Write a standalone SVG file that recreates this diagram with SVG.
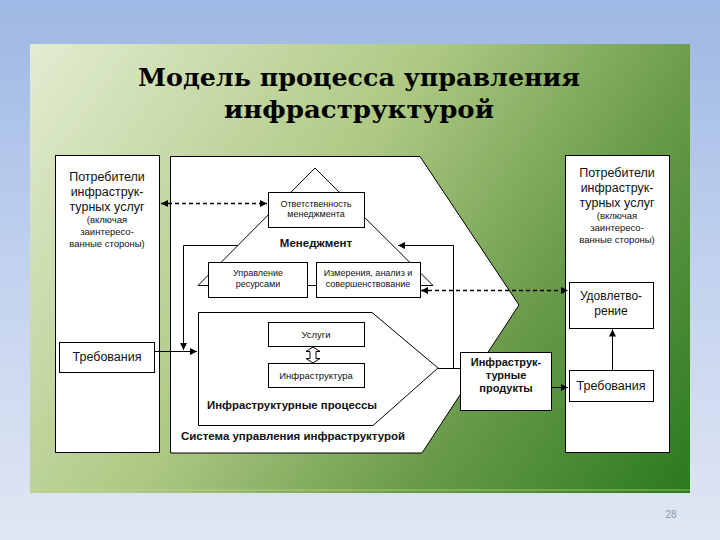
<svg xmlns="http://www.w3.org/2000/svg" width="720" height="540" viewBox="0 0 720 540">
<defs>
<linearGradient id="bg" x1="0" y1="0" x2="0" y2="1">
<stop offset="0" stop-color="#9db8e4"/>
<stop offset="0.5" stop-color="#c2d2ee"/>
<stop offset="1" stop-color="#e0e7f3"/>
</linearGradient>
<linearGradient id="panel" gradientUnits="userSpaceOnUse" x1="30" y1="44" x2="690" y2="493">
<stop offset="0" stop-color="#e3ecd2"/>
<stop offset="0.42" stop-color="#aec983"/>
<stop offset="0.7" stop-color="#6b9c4b"/>
<stop offset="1" stop-color="#2a7a1c"/>
</linearGradient>
<marker id="ar" markerUnits="userSpaceOnUse" markerWidth="8" markerHeight="8" refX="7" refY="3.5" orient="auto-start-reverse">
<path d="M0,0 L7,3.5 L0,7 z" fill="#000"/>
</marker>
<style>
.box{fill:#fff;stroke:#000;stroke-width:1}
.ln{fill:none;stroke:#000;stroke-width:1}
.dash{fill:none;stroke:#000;stroke-width:1.3;stroke-dasharray:4 3}
.t{font-family:"Liberation Sans",Arial,sans-serif;fill:#111;text-anchor:middle}
.b{font-weight:bold}
.big{font-size:12.5px}
.sm{font-size:9.5px}
.xs{font-size:9px}
.title{font-family:"DejaVu Serif","Liberation Serif",serif;font-weight:bold;font-size:25px;fill:#000;text-anchor:middle}
</style>
</defs>
<rect x="0" y="0" width="720" height="540" fill="url(#bg)"/>
<rect x="30" y="44" width="660" height="449" fill="url(#panel)"/>
<line x1="30" y1="490" x2="690" y2="490" stroke="#c3d88e" stroke-width="1" opacity="0.7"/>
<text class="title" x="359" y="86" textLength="442" lengthAdjust="spacingAndGlyphs">Модель процесса управления</text>
<text class="title" x="359" y="118" textLength="270" lengthAdjust="spacingAndGlyphs">инфраструктурой</text>
<text x="671" y="518" font-family="Liberation Sans, Arial, sans-serif" font-size="10" fill="#8a96a8" text-anchor="middle">28</text>

<g id="consumers-left">
<rect class="box" x="55.5" y="155.5" width="104" height="297"/>
<text class="t big" x="107" y="181">Потребители</text>
<text class="t big" x="107" y="196">инфраструк-</text>
<text class="t big" x="107" y="211">турных услуг</text>
<text class="t sm" x="107" y="223">(включая</text>
<text class="t sm" x="107" y="235">заинтересо-</text>
<text class="t sm" x="107" y="247">ванные стороны)</text>
</g>
<g id="requirements-left">
<rect class="box" x="59.5" y="342.5" width="95" height="30"/>
<text class="t big" x="107" y="361">Требования</text>
</g>

<g id="system">
<polygon class="box" points="170.5,156.5 420,156.5 519,305 422,453 170.5,453"/>
<text class="t b" x="293" y="440" font-size="11" textLength="224" lengthAdjust="spacingAndGlyphs">Система управления инфраструктурой</text>
</g>

<g id="management">
<polygon class="ln" points="315,168 198,285.5 433,285.5"/>
<text class="t b" x="316" y="247" font-size="11.5">Менеджмент</text>
</g>
<g id="responsibility">
<rect class="box" x="268.5" y="192.5" width="96" height="35"/>
<text class="t xs" x="316" y="207">Ответственность</text>
<text class="t xs" x="316" y="217">менеджмента</text>
</g>
<g id="resources">
<rect class="box" x="208.5" y="262.5" width="99" height="35"/>
<text class="t xs" x="258" y="276">Управление</text>
<text class="t xs" x="258" y="287">ресурсами</text>
</g>
<g id="measurement">
<rect class="box" x="316.5" y="262.5" width="104" height="35"/>
<text class="t xs" x="368" y="276">Измерения, анализ и</text>
<text class="t xs" x="368" y="287">совершенствование</text>
</g>

<g id="processes">
<polygon class="box" points="198.5,312.5 372,312.5 438,368 373,425.5 198.5,425.5"/>
<text class="t b" x="292" y="409" font-size="11" textLength="170" lengthAdjust="spacingAndGlyphs">Инфраструктурные процессы</text>
</g>
<g id="services">
<rect class="box" x="268.5" y="322.5" width="96" height="24"/>
<text class="t sm" x="316" y="338">Услуги</text>
</g>
<g id="infrastructure">
<rect class="box" x="268.5" y="363.5" width="96" height="24"/>
<text class="t sm" x="316" y="379">Инфраструктура</text>
</g>

<g id="products">
<rect class="box" x="460.5" y="352.5" width="91" height="58"/>
<text class="t b" x="506" y="366" font-size="11">Инфраструк-</text>
<text class="t b" x="506" y="379" font-size="11">турные</text>
<text class="t b" x="506" y="392" font-size="11">продукты</text>
</g>

<g id="consumers-right">
<rect class="box" x="565.5" y="155.5" width="104" height="297"/>
<text class="t big" x="617" y="177">Потребители</text>
<text class="t big" x="617" y="192">инфраструк-</text>
<text class="t big" x="617" y="207">турных услуг</text>
<text class="t sm" x="617" y="219">(включая</text>
<text class="t sm" x="617" y="231">заинтересо-</text>
<text class="t sm" x="617" y="243">ванные стороны)</text>
</g>
<g id="satisfaction">
<rect class="box" x="569.5" y="282.5" width="84" height="46"/>
<text class="t" x="611" y="300" font-size="12">Удовлетво-</text>
<text class="t" x="611" y="315" font-size="12">рение</text>
</g>
<g id="requirements-right">
<rect class="box" x="569.5" y="370.5" width="84" height="31"/>
<text class="t big" x="611" y="390">Требования</text>
</g>

<g id="connectors">
<line class="dash" x1="161" y1="203.5" x2="267" y2="203.5" marker-start="url(#ar)" marker-end="url(#ar)"/>
<line class="dash" x1="421" y1="290.5" x2="568" y2="290.5" marker-start="url(#ar)" marker-end="url(#ar)"/>
<line class="ln" x1="154" y1="351.5" x2="197" y2="351.5" marker-end="url(#ar)"/>
<polyline class="ln" points="238,245.5 183.5,245.5 183.5,350" marker-end="url(#ar)"/>
<line class="ln" x1="438" y1="368.5" x2="460" y2="368.5"/>
<polyline class="ln" points="453.5,368 453.5,245.5 398,245.5" marker-end="url(#ar)"/>
<line class="ln" x1="552" y1="387.5" x2="568" y2="387.5" marker-end="url(#ar)"/>
<line class="ln" x1="612.5" y1="370" x2="612.5" y2="329.5" marker-end="url(#ar)"/>
<path class="box" d="M313,347 L320,351.5 L316,351.5 L316,358.5 L320,358.5 L313,363 L306,358.5 L310,358.5 L310,351.5 L306,351.5 Z"/>
</g>
</svg>
